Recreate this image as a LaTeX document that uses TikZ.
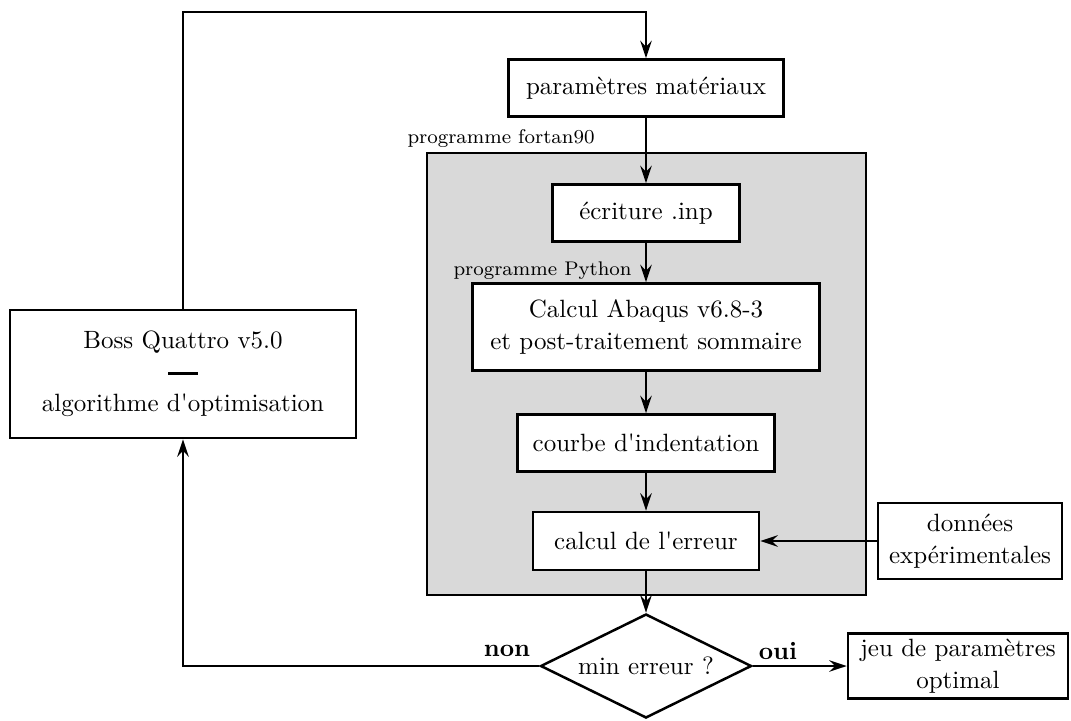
\documentclass[tikz,border=0pt]{standalone}
\usetikzlibrary{arrows.meta,shapes.geometric}
\begin{document}
\begin{tikzpicture}[x=0.4pt,y=-0.4pt,
  box/.style={draw,line width=1pt,fill=white,inner sep=1pt,align=center,font=\fontsize{10}{12.8}\selectfont},
  arr/.style={line width=1pt,-{Stealth[length=7pt,width=4.6pt,inset=2.4pt]}},
  lbl/.style={inner sep=0pt,font=\fontsize{7.9}{10}\selectfont},
  decision/.style={draw,line width=1pt,fill=white,shape=diamond,aspect=2,inner sep=1pt,minimum width=84.4pt,minimum height=41.6pt}]
\useasboundingbox (0,0) rectangle (1071,720);
% gray area
\draw[line width=1pt,fill=black!15] (427,153) rectangle (866,595);
\node[lbl,anchor=west] (lf) at (407,139) {programme fortan90};
\node[lbl,anchor=west] (lp) at (453,271) {programme Python};
% nodes
\node[box,minimum width=110pt,minimum height=22.8pt] (param) at (646,88) {paramètres matériaux};
\node[box,minimum width=74.8pt,minimum height=22.8pt] (ecr) at (646,213) {écriture .inp};
\node[box,minimum width=138.8pt,minimum height=34.8pt] (calc) at (646,327) {Calcul Abaqus v6.8-3\\ et post-traitement sommaire};
\node[box,minimum width=102.8pt,minimum height=22.8pt] (courbe) at (646,443) {courbe d\textquotesingle indentation};
\node[box,minimum width=90.4pt,minimum height=23.2pt] (err) at (646,541) {calcul de l\textquotesingle erreur};
\node[box,minimum width=73.6pt,minimum height=30.4pt] (don) at (970,541) {données\\ expérimentales};
\node[decision] (dec) at (646,666) {min erreur ?};
\node[box,minimum width=88pt,minimum height=26pt] (jeu) at (958,666) {jeu de paramètres\\ optimal};
\node[box,minimum width=138.4pt,minimum height=51.2pt,font=\fontsize{10}{12}\selectfont] (boss) at (183,374) {Boss Quattro v5.0\\[1pt] \rule[2.6pt]{12pt}{1.1pt}\\[0pt] algorithme d\textquotesingle optimisation};
\node[inner sep=0pt,font=\bfseries] (non) at (507,651) {non};
\node[inner sep=0pt,font=\bfseries] (oui) at (778,651) {oui};
\coordinate (tl) at (183,12);
\coordinate (tr) at (646,12);
\coordinate (bl) at (183,666);
% connectors
\draw[arr] (boss.north) -- (tl) -- (tr) -- (param.north);
\draw[arr] (param) -- (ecr);
\draw[arr] (ecr) -- (calc);
\draw[arr] (calc) -- (courbe);
\draw[arr] (courbe) -- (err);
\draw[arr] (don.west) -- (err.east);
\draw[arr] (err) -- (dec);
\draw[arr] (dec.east) -- (jeu.west);
\draw[arr] (dec.west) -- (bl) -- (boss.south);
\end{tikzpicture}
\end{document}
